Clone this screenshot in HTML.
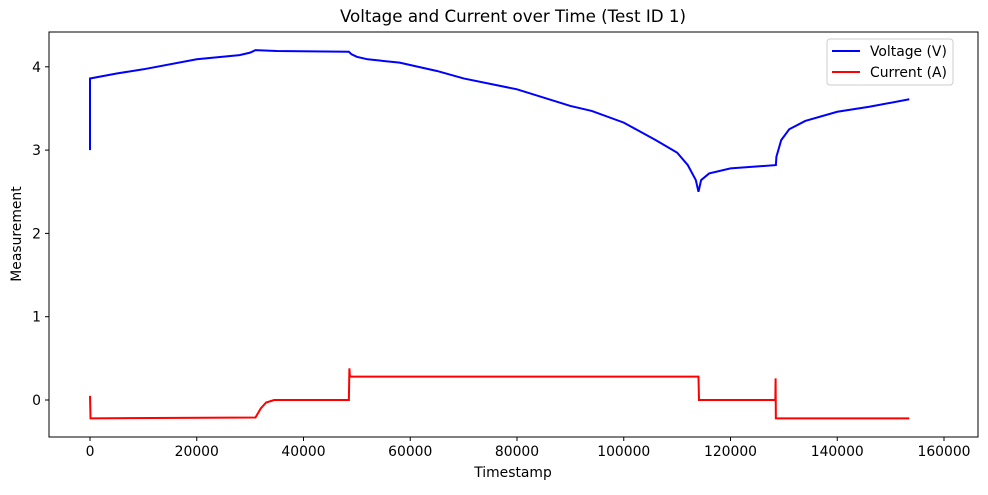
<!DOCTYPE html>
<html><head><meta charset="utf-8"><style>
body{margin:0;background:#fff;font-family:"Liberation Sans","DejaVu Sans",sans-serif}
svg text{font-family:"DejaVu Sans","Liberation Sans",sans-serif;font-size:13.9px;fill:#000}
</style></head><body>
<svg id="chart" width="988" height="490" xmlns="http://www.w3.org/2000/svg">
<text x="513" y="22" text-anchor="middle" style="font-size:16.7px">Voltage and Current over Time (Test ID 1)</text>
<g id="xt"></g>
<g id="yt"></g>
<g id="series"></g>
<rect x="49" y="32" width="929" height="405" fill="none" stroke="#000" stroke-width="1"/>
<text x="513" y="477" text-anchor="middle">Timestamp</text>
<text transform="translate(21,234) rotate(-90)" text-anchor="middle">Measurement</text>
<g>
<rect x="827" y="39" width="126" height="46" rx="3" fill="#fff" stroke="#ccc"/>
<g><line x1="832" y1="51" x2="860" y2="51" stroke="#0000ff" stroke-width="2"/><text x="870" y="56">Voltage (V)</text></g>
<g><line x1="832" y1="72" x2="860" y2="72" stroke="#ff0000" stroke-width="2"/><text x="870" y="77">Current (A)</text></g>
</g>
</svg>
<script>
const xTicks=[0,20000,40000,60000,80000,100000,120000,140000,160000];
const yTicks=[0,1,2,3,4];
const voltT=[0,0,5000,10000,20000,28000,30000,31000,35000,48500,49000,50000,52000,58000,65000,70000,80000,90000,94000,100000,106000,110000,112000,113500,114000,114500,116000,120000,128500,128600,129500,131000,134000,140000,146000,153500];
const voltV=[3.0,3.86,3.92,3.97,4.09,4.14,4.17,4.2,4.19,4.18,4.15,4.12,4.09,4.05,3.95,3.86,3.73,3.53,3.47,3.33,3.12,2.97,2.82,2.64,2.5,2.64,2.72,2.78,2.82,2.92,3.12,3.25,3.35,3.46,3.52,3.61];
const curT=[0,100,31000,32000,33000,34500,48500,48600,48700,114000,114100,128400,128450,128500,153500];
const curA=[0.05,-0.22,-0.21,-0.1,-0.03,0,0,0.38,0.28,0.28,0,0,0.26,-0.22,-0.22];
const X=t=>90+t*854/160000;
const Y=v=>400-v*83.3;
const NS="http://www.w3.org/2000/svg";
function mk(tag,attrs,parent){const e=document.createElementNS(NS,tag);for(const k in attrs)e.setAttribute(k,attrs[k]);parent.appendChild(e);return e;}
const xt=document.getElementById('xt'),yt=document.getElementById('yt'),s=document.getElementById('series');
xTicks.forEach(t=>{const x=X(t);
const l=mk('line',{x1:x,x2:x,y1:437,y2:441,stroke:'#000'},xt);


const tx=mk('text',{x:x,y:456,'text-anchor':'middle'},xt);tx.textContent=t;

});
yTicks.forEach(v=>{const y=Y(v);
const l=mk('line',{x1:45,x2:49,y1:y,y2:y,stroke:'#000'},yt);


const tx=mk('text',{x:41,y:y+5,'text-anchor':'end'},yt);tx.textContent=v;

});
const vp=mk('polyline',{points:voltT.map((t,i)=>X(t)+','+Y(voltV[i])).join(' '),fill:'none',stroke:'#0000ff','stroke-width':2},s);


const cp=mk('polyline',{points:curT.map((t,i)=>X(t)+','+Y(curA[i])).join(' '),fill:'none',stroke:'#ff0000','stroke-width':2},s);


</script>
</body></html>
